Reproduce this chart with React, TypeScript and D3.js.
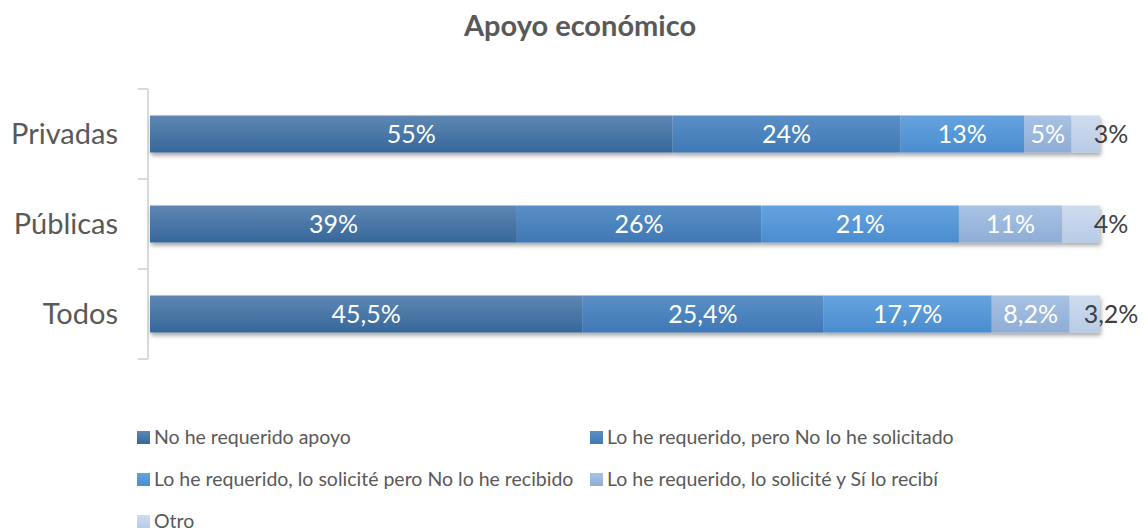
import React from 'react';
import * as d3 from 'd3';

const categories = ['Privadas', 'Públicas', 'Todos'];
const series = [
  'No he requerido apoyo',
  'Lo he requerido, pero No lo he solicitado',
  'Lo he requerido, lo solicité pero No lo he recibido',
  'Lo he requerido, lo solicité y Sí lo recibí',
  'Otro',
];
// values per category, same order as series
const privadas = [55, 24, 13, 5, 3];
const publicas = [39, 26, 21, 11, 4];
const todos = [45.5, 25.4, 17.7, 8.2, 3.2];
const labelsPrivadas = ['55%', '24%', '13%', '5%', '3%'];
const labelsPublicas = ['39%', '26%', '21%', '11%', '4%'];
const labelsTodos = ['45,5%', '25,4%', '17,7%', '8,2%', '3,2%'];

const colors = [
  ['#5f87b3', '#36679a'],
  ['#5a8fc6', '#3f78b6'],
  ['#66a3df', '#4a8ccf'],
  ['#a8c2e3', '#8eadd6'],
  ['#cfdcef', '#b8cbe6'],
];

const width = 1146;
const height = 531;
const margin = { top: 89, left: 150, right: 46, bottom: 172 };
const font = 'Lato, "Open Sans", sans-serif';

const App = () => {
  const rows = [privadas, publicas, todos];
  const labels = [labelsPrivadas, labelsPublicas, labelsTodos];

  const xScale = d3.scaleLinear().domain([0, 1]).range([margin.left, width - margin.right]);
  const yScale = d3.scaleBand().domain(categories).range([margin.top, height - margin.bottom]).paddingInner(0).paddingOuter(0);
  const barH = 37;

  const stacks = rows.map(vals => {
    const total = d3.sum(vals);
    let acc = 0;
    return vals.map(v => {
      const x0 = acc / total;
      acc += v;
      return { x0, x1: acc / total };
    });
  });

  return (
    <svg width={width} height={height} style={{ position: 'absolute', left: 0, top: 0 }}>
      <defs>
        {colors.map((c, i) => (
          <linearGradient key={i} id={`g${i}`} x1="0" y1="0" x2="0" y2="1">
            <stop offset="0%" stopColor={c[0]} />
            <stop offset="100%" stopColor={c[1]} />
          </linearGradient>
        ))}
        <filter id="shadow" x="-5%" y="-20%" width="110%" height="160%">
          <feDropShadow dx="1" dy="3" stdDeviation="2" floodColor="#000" floodOpacity="0.35" />
        </filter>
      </defs>
      <rect width={width} height={height} fill="#fff" />
      <text x={580} y={36} textAnchor="middle" fontFamily={font} fontWeight="bold" fontSize={29} fill="#595959">
        Apoyo económico
      </text>

      {/* axis */}
      <g stroke="#d9d9d9" strokeWidth={2}>
        <line x1={148} x2={148} y1={yScale.range()[0]} y2={yScale.range()[1]} />
        {[...categories, 'end'].map((c, i) => {
          const y = margin.top + i * yScale.bandwidth();
          return <line key={c} x1={138} x2={148} y1={y} y2={y} />;
        })}
      </g>
      {categories.map(c => (
        <text key={c} x={118} y={(yScale(c) as number) + yScale.bandwidth() / 2} dy=".35em" textAnchor="end"
          fontFamily={font} fontSize={29} fill="#595959">
          {c}
        </text>
      ))}

      {categories.map((c, ci) => {
        const yc = (yScale(c) as number) + yScale.bandwidth() / 2;
        return (
          <g key={c}>
            <g filter="url(#shadow)">
              {stacks[ci].map((s, si) => (
                <rect key={si} x={xScale(s.x0)} y={yc - barH / 2} width={xScale(s.x1) - xScale(s.x0)} height={barH}
                  fill={`url(#g${si})`} />
              ))}
            </g>
            {stacks[ci].map((s, si) => {
              const last = si === series.length - 1;
              const cx = last ? xScale(1) + 11 : (xScale(s.x0) + xScale(s.x1)) / 2;
              return (
                <text key={si} x={cx} y={yc} dy=".35em" textAnchor="middle" fontFamily={font} fontSize={25}
                  fill={last ? '#404040' : '#fff'}>
                  {labels[ci][si]}
                </text>
              );
            })}
          </g>
        );
      })}

      {/* legend */}
      {series.map((s, i) => {
        const lx = i % 2 === 0 ? 137 : 590;
        const ly = 437 + Math.floor(i / 2) * 42;
        return (
          <g key={s} transform={`translate(${lx}, ${ly})`}>
            <rect x={0} y={-6} width={13} height={13} fill={`url(#g${i})`} />
            <text x={17} y={0} dy=".35em" fontFamily={font} fontSize={19.5} fill="#595959">{s}</text>
          </g>
        );
      })}
    </svg>
  );
};

export default App;
